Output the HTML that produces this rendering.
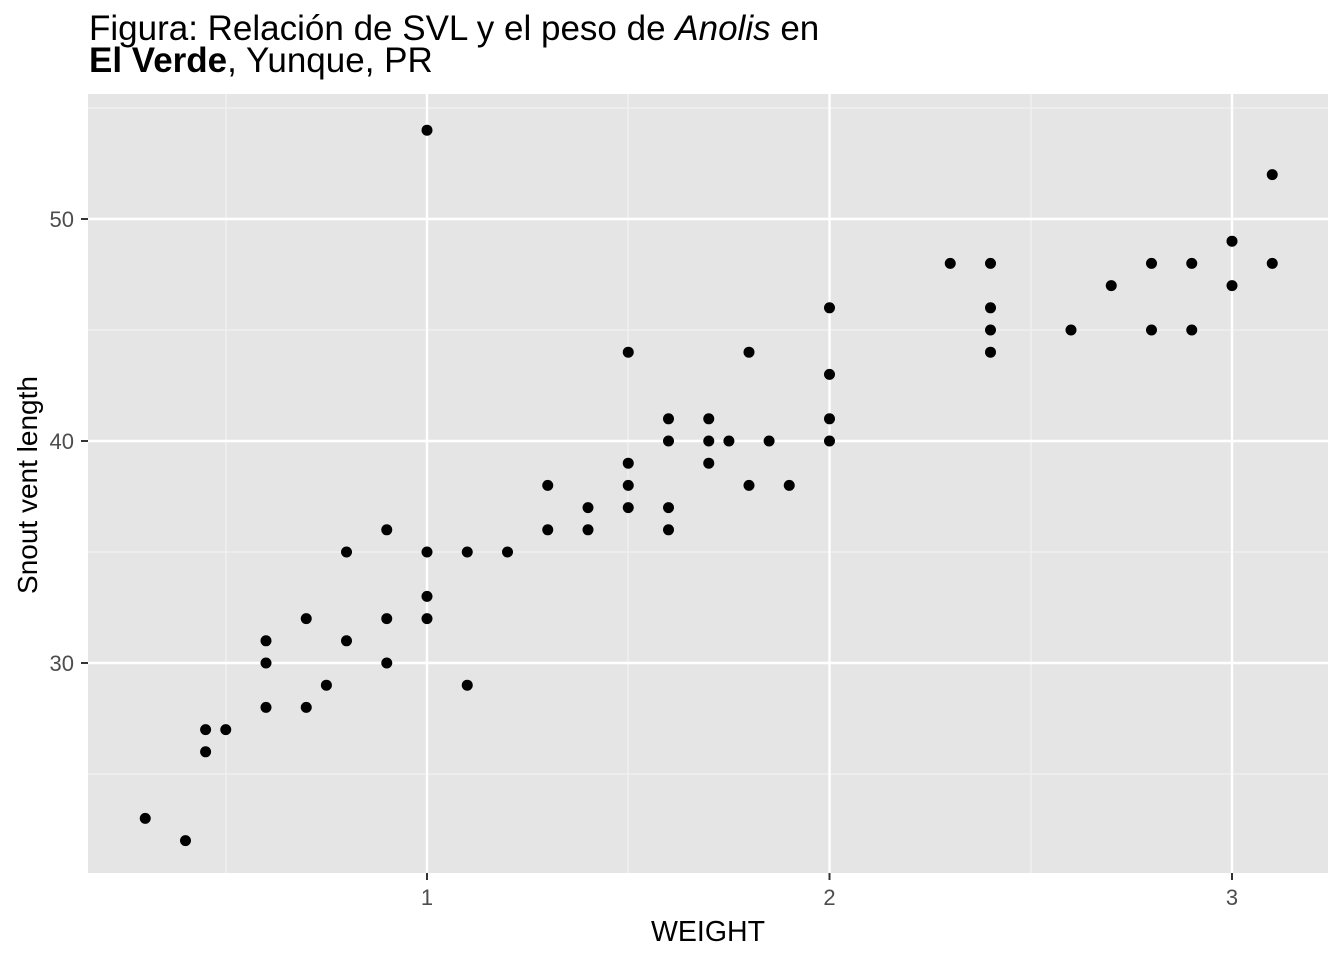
<!DOCTYPE html>
<html><head><meta charset="utf-8"><style>body{margin:0;background:#fff}</style></head><body>
<svg width="1344" height="960" xmlns="http://www.w3.org/2000/svg" style="font-family:'Liberation Sans',sans-serif">
<rect width="1344" height="960" fill="#fff"/>
<text x="89" y="40" style="font-size:35px" fill="#000">Figura: Relación de SVL y el peso de <tspan font-style="italic">Anolis</tspan> en</text>
<text x="89" y="72" style="font-size:35px" fill="#000"><tspan font-weight="bold">El Verde</tspan>, Yunque, PR</text>
<rect x="88" y="94" width="1240" height="779" fill="#e5e5e5"/>
<g stroke="#f2f2f2" stroke-width="1.2">
<line x1="88" x2="1328" y1="108" y2="108"/><line x1="88" x2="1328" y1="330" y2="330"/><line x1="88" x2="1328" y1="552" y2="552"/><line x1="88" x2="1328" y1="774" y2="774"/>
<line y1="94" y2="873" x1="226" x2="226"/><line y1="94" y2="873" x1="628" x2="628"/><line y1="94" y2="873" x1="1031" x2="1031"/>
</g>
<g stroke="#fff" stroke-width="2.4">
<line x1="88" x2="1328" y1="219" y2="219"/><line x1="88" x2="1328" y1="441" y2="441"/><line x1="88" x2="1328" y1="663" y2="663"/>
<line y1="94" y2="873" x1="427" x2="427"/><line y1="94" y2="873" x1="829.5" x2="829.5"/><line y1="94" y2="873" x1="1232" x2="1232"/>
</g>
<g stroke="#333" stroke-width="2">
<line x1="81" x2="88" y1="219" y2="219"/><line x1="81" x2="88" y1="441" y2="441"/><line x1="81" x2="88" y1="663" y2="663"/>
<line y1="873" y2="880" x1="427" x2="427"/><line y1="873" y2="880" x1="829.5" x2="829.5"/><line y1="873" y2="880" x1="1232" x2="1232"/>
</g>
<g style="font-size:22px" fill="#4d4d4d" text-anchor="end">
<text x="74" y="227">50</text><text x="74" y="449">40</text><text x="74" y="671">30</text>
</g>
<g style="font-size:22px" fill="#4d4d4d" text-anchor="middle">
<text x="427" y="905">1</text><text x="829.5" y="905">2</text><text x="1232" y="905">3</text>
</g>
<text x="708" y="941" style="font-size:28.5px" text-anchor="middle">WEIGHT</text>
<text transform="translate(37,485) rotate(-90)" style="font-size:28px" text-anchor="middle">Snout vent length</text>
<g fill="#000">
<circle cx="145.25" cy="818.4" r="5.5"/><circle cx="185.5" cy="840.6" r="5.5"/>
<circle cx="205.6" cy="729.6" r="5.5"/><circle cx="205.6" cy="751.8" r="5.5"/><circle cx="225.75" cy="729.6" r="5.5"/>
<circle cx="266" cy="640.8" r="5.5"/><circle cx="266" cy="663" r="5.5"/><circle cx="266" cy="707.4" r="5.5"/>
<circle cx="306.25" cy="618.6" r="5.5"/><circle cx="306.25" cy="707.4" r="5.5"/><circle cx="326.4" cy="685.2" r="5.5"/>
<circle cx="346.5" cy="552" r="5.5"/><circle cx="346.5" cy="640.8" r="5.5"/>
<circle cx="386.75" cy="529.8" r="5.5"/><circle cx="386.75" cy="618.6" r="5.5"/><circle cx="386.75" cy="663" r="5.5"/>
<circle cx="427" cy="130.2" r="5.5"/><circle cx="427" cy="552" r="5.5"/><circle cx="427" cy="596.4" r="5.5"/><circle cx="427" cy="618.6" r="5.5"/>
<circle cx="467.25" cy="552" r="5.5"/><circle cx="467.25" cy="685.2" r="5.5"/><circle cx="507.5" cy="552" r="5.5"/>
<circle cx="547.75" cy="485.4" r="5.5"/><circle cx="547.75" cy="529.8" r="5.5"/>
<circle cx="588" cy="507.6" r="5.5"/><circle cx="588" cy="529.8" r="5.5"/>
<circle cx="628.25" cy="352.2" r="5.5"/><circle cx="628.25" cy="463.2" r="5.5"/><circle cx="628.25" cy="485.4" r="5.5"/><circle cx="628.25" cy="507.6" r="5.5"/>
<circle cx="668.5" cy="418.8" r="5.5"/><circle cx="668.5" cy="441" r="5.5"/><circle cx="668.5" cy="507.6" r="5.5"/><circle cx="668.5" cy="529.8" r="5.5"/>
<circle cx="708.75" cy="418.8" r="5.5"/><circle cx="708.75" cy="441" r="5.5"/><circle cx="708.75" cy="463.2" r="5.5"/>
<circle cx="728.9" cy="441" r="5.5"/><circle cx="749" cy="352.2" r="5.5"/><circle cx="749" cy="485.4" r="5.5"/>
<circle cx="769.1" cy="441" r="5.5"/><circle cx="789.25" cy="485.4" r="5.5"/>
<circle cx="829.5" cy="307.8" r="5.5"/><circle cx="829.5" cy="374.4" r="5.5"/><circle cx="829.5" cy="418.8" r="5.5"/><circle cx="829.5" cy="441" r="5.5"/>
<circle cx="950.25" cy="263.4" r="5.5"/>
<circle cx="990.5" cy="263.4" r="5.5"/><circle cx="990.5" cy="307.8" r="5.5"/><circle cx="990.5" cy="330" r="5.5"/><circle cx="990.5" cy="352.2" r="5.5"/>
<circle cx="1071" cy="330" r="5.5"/><circle cx="1111.25" cy="285.6" r="5.5"/>
<circle cx="1151.5" cy="263.4" r="5.5"/><circle cx="1151.5" cy="330" r="5.5"/>
<circle cx="1191.75" cy="263.4" r="5.5"/><circle cx="1191.75" cy="330" r="5.5"/>
<circle cx="1232" cy="241.2" r="5.5"/><circle cx="1232" cy="285.6" r="5.5"/>
<circle cx="1272.25" cy="174.6" r="5.5"/><circle cx="1272.25" cy="263.4" r="5.5"/>
</g>
</svg>
</body></html>
